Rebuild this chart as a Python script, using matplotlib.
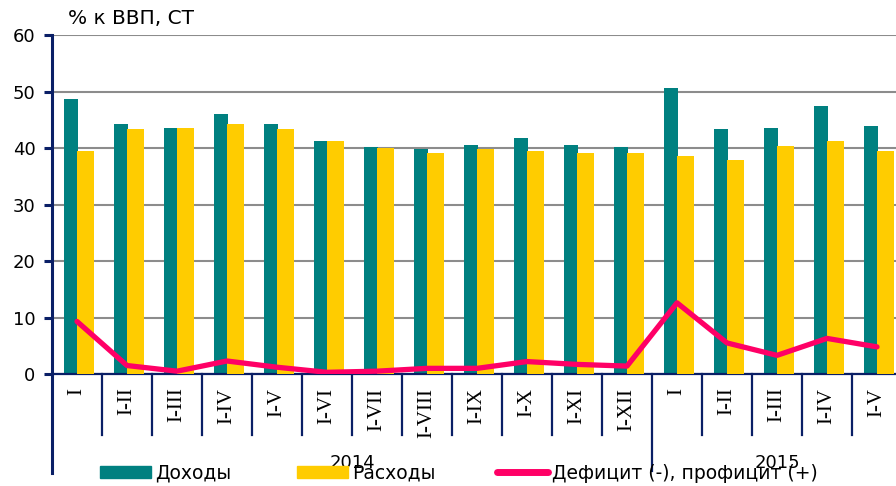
import numpy as np
import matplotlib.pyplot as plt
from matplotlib.patches import Patch
from matplotlib.lines import Line2D

plt.rcParams['font.family'] = ['DejaVu Sans']

# data
periods = ['I', 'I-II', 'I-III', 'I-IV', 'I-V', 'I-VI', 'I-VII', 'I-VIII', 'I-IX',
           'I-X', 'I-XI', 'I-XII', 'I', 'I-II', 'I-III', 'I-IV', 'I-V']
years = ['2014', '2015']
year_len = [12, 5]
revenue = [48.7, 44.2, 43.6, 46.1, 44.2, 41.3, 40.2, 39.8, 40.5, 41.8, 40.5, 40.1,
           50.6, 43.3, 43.6, 47.4, 43.9]
expense = [39.5, 43.3, 43.6, 44.2, 43.3, 41.3, 40.0, 39.2, 39.8, 39.5, 39.2, 39.1,
           38.5, 37.9, 40.4, 41.3, 39.5]
balance = [9.3, 1.5, 0.5, 2.3, 1.2, 0.3, 0.5, 1.0, 1.0, 2.2, 1.7, 1.4,
           12.6, 5.5, 3.3, 6.3, 4.8]

TEAL = '#008080'
YELLOW = '#FFCC00'
PINK = '#FF0066'
NAVY = '#0A1F66'

fig = plt.figure(figsize=(8.96, 4.86), dpi=100)
ax = fig.add_axes([52 / 896, 1 - 374 / 486, 850 / 896, 339 / 486])

x = np.arange(len(periods))
ax.bar(x - 0.12, revenue, width=0.28, color=TEAL, zorder=2)
ax.bar(x + 0.17, expense, width=0.34, color=YELLOW, zorder=3)
ax.plot(x, balance, color=PINK, lw=3.8, solid_capstyle='round',
        solid_joinstyle='round', zorder=4)

ax.set_xlim(-0.5, len(periods) - 0.5)
ax.set_ylim(0, 60)
ax.set_yticks(range(0, 61, 10))
ax.yaxis.grid(True, color='#8c8c8c', lw=1.5, zorder=0)
ax.set_axisbelow(True)
for s in ['top', 'right']:
    ax.spines[s].set_visible(False)
ax.spines['left'].set_color(NAVY)
ax.spines['left'].set_linewidth(2.2)
ax.spines['bottom'].set_color(NAVY)
ax.spines['bottom'].set_linewidth(1.6)
ax.tick_params(axis='y', colors=NAVY, width=2.2, length=6, labelsize=13,
               labelcolor='black', pad=6)
ax.set_xticks([])

# category separators and labels
trans = ax.get_xaxis_transform()
ax.plot([-0.5, -0.5], [0, -0.292], transform=trans, color=NAVY, lw=2.2,
        clip_on=False)
start = 0
bounds = []
for n in year_len:
    start += n
    bounds.append(start - 0.5)
for b in np.arange(0.5, len(periods), 1.0):
    low = -0.285 if b in bounds else -0.18
    ax.plot([b, b], [0, low], transform=trans, color=NAVY, lw=1.6, clip_on=False)
for i, p in enumerate(periods):
    ax.text(i, -0.04, p, transform=trans, rotation=90, ha='center', va='top',
            fontsize=15, family='Liberation Serif')
start = 0
for yr, n in zip(years, year_len):
    ax.text(start + n / 2 - 0.5, -0.262, yr, transform=trans, ha='center',
            va='center', fontsize=13)
    start += n

fig.text(68 / 896, 1 - 19 / 486, '% к ВВП, СТ', fontsize=14.5, va='center')

handles = [Patch(color=TEAL), Patch(color=YELLOW),
           Line2D([], [], color=PINK, lw=5, solid_capstyle='round')]
names = ['Доходы', 'Расходы', 'Дефицит (-), профицит (+)']
starts = [100, 297, 497]
for h, nm, sx in zip(handles, names, starts):
    leg = fig.legend([h], [nm], loc='center left',
                     bbox_to_anchor=(sx / 896, 1 - 473 / 486), frameon=False,
                     fontsize=13.5, handlelength=2.7, handleheight=0.55,
                     handletextpad=0.25, borderpad=0, borderaxespad=0)

fig.savefig('out.png', dpi=100)
